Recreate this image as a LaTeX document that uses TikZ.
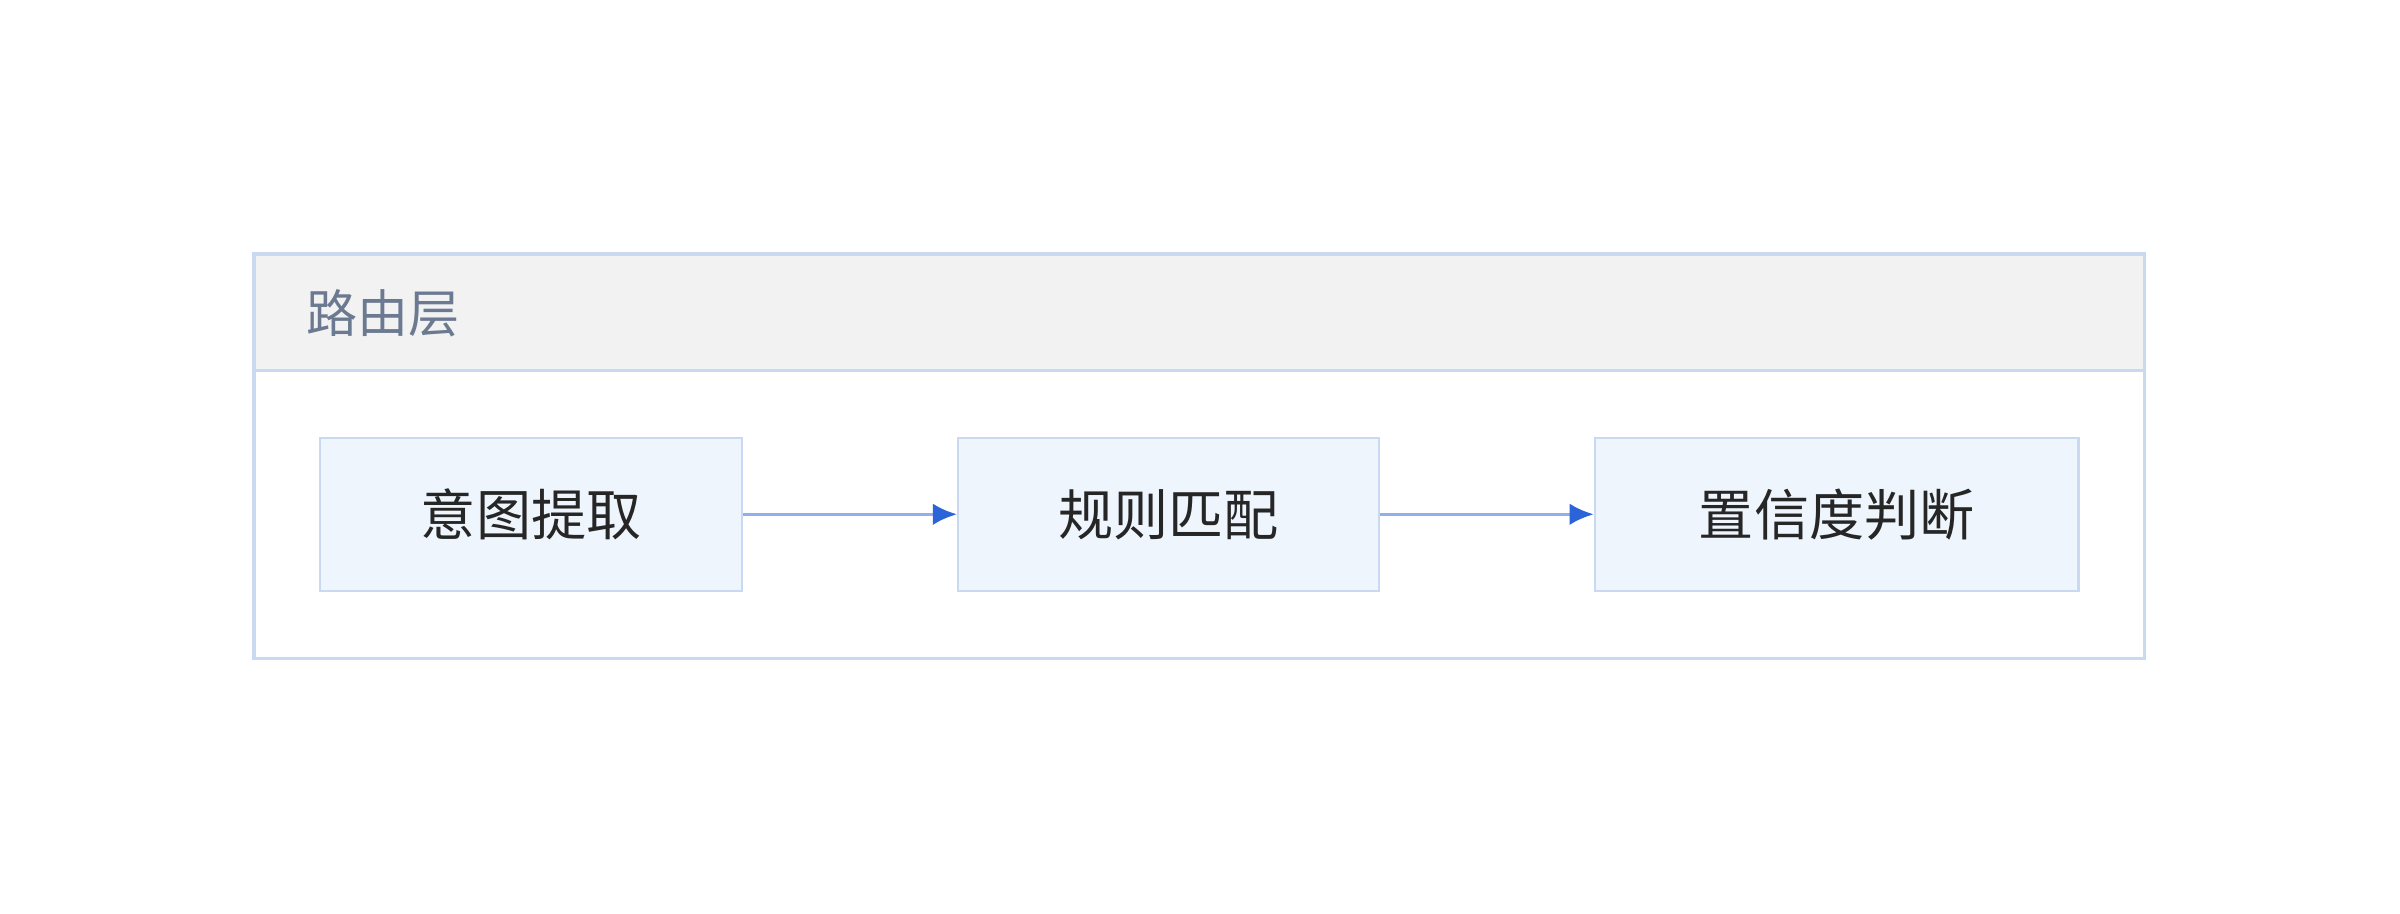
\documentclass[tikz,border=0pt]{standalone}
\usepackage{fontspec}
\newfontfamily\cjk{Noto Sans CJK SC}
\usetikzlibrary{arrows.meta,positioning}
\definecolor{boxfill}{HTML}{EFF5FD}
\definecolor{boxline}{HTML}{C9D9F2}
\definecolor{headfill}{HTML}{F2F2F2}
\definecolor{titlecol}{HTML}{6B7A90}
\definecolor{linkcol}{HTML}{8FB0EA}
\definecolor{tipcol}{HTML}{2B63D9}
\begin{document}
\begin{tikzpicture}[x=0.02cm, y=-0.02cm,
    stage/.style={draw=boxline, line width=0.8pt, fill=boxfill, minimum height=2cm, font=\cjk\fontsize{20.5}{20.5}\selectfont, text=black!85},
    link/.style={draw=linkcol, line width=1.3pt, -{Latex[length=9pt,width=8pt,color=tipcol]}}]
				\useasboundingbox (0,0) rectangle (1568,597);
				
				\draw[boxline, line width=1.2pt, fill=white](166,166)rectangle(1401,430);
				\draw[boxline, line width=1.2pt, fill=headfill](166,166)rectangle(1401,242);
				\node[anchor=west, text=titlecol, font=\cjk\fontsize{19}{19}\selectfont] (title) at (194,205) {路由层};
				
				\node[stage, minimum width=5.52cm] (intent) at (347,336) {意图提取};
				\node[stage, minimum width=5.5cm] (rule) at (763.5,336) {规则匹配};
				\node[stage, minimum width=6.32cm] (conf) at (1200,336) {置信度判断};
				
				\draw[link](intent)--(rule);
				\draw[link](rule)--(conf);
\end{tikzpicture}
\end{document}
